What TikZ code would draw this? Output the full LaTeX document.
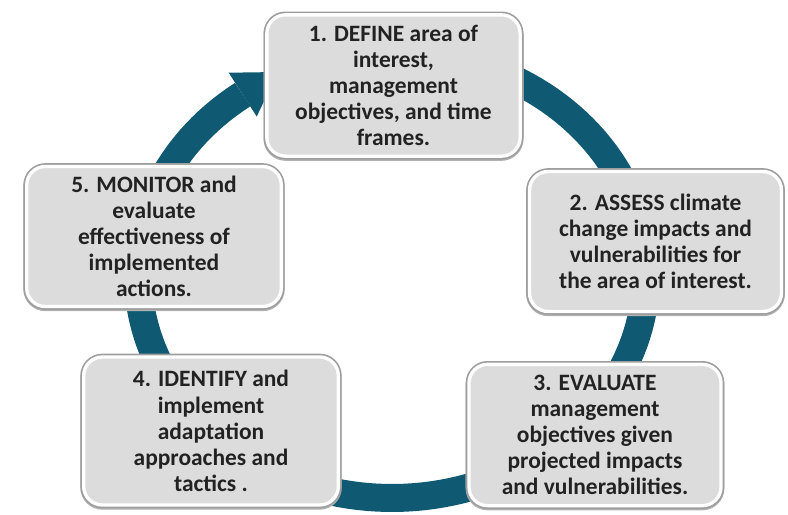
\documentclass[tikz,border=0pt]{standalone}
\usepackage{fontspec}
\setmainfont{Carlito}
\definecolor{ringteal}{HTML}{0F5A72}
\definecolor{boxgray}{HTML}{DCDCDC}
\definecolor{textdark}{HTML}{222222}
\begin{document}
\begin{tikzpicture}[x=0.75pt,y=-0.75pt]
\useasboundingbox (0,0) rectangle (788,514);
\tikzset{
  stage/.style={rounded corners=14pt, fill=boxgray, draw=white, line width=2.5pt,
    preaction={draw=black!30, line width=5pt, transform canvas={yshift=-1pt}},
    preaction={draw=black!38, line width=5pt},
    align=center, text=textdark, inner sep=0pt,
    font=\fontsize{17.6}{19.6}\selectfont\bfseries},
  ring/.style={draw=ringteal, line width=21pt}
}
% ring (clockwise cycle) with arrowhead at top left
\draw[ring] plot[domain=-234:100, samples=160] ({392+254*cos(\x)},{275-223*sin(\x)});
\coordinate (hbase1) at (228.7,72.7);
\coordinate (hbase2) at (256.7,116.5);
\coordinate (htip) at (278.1,72.0);
\fill[ringteal] (hbase1) -- (htip) -- (hbase2) -- cycle;
% stages
\node[stage, minimum width=190pt, minimum height=106pt] (s1) at (393.5,85.5)
  {1. DEFINE area of\\ interest,\\ management\\ objectives, and time\\ frames.};
\node[stage, minimum width=189pt, minimum height=105pt] (s2) at (655.5,241.5)
  {2. ASSESS climate\\ change impacts and\\ vulnerabilities for\\ the area of interest.};
\node[stage, minimum width=189pt, minimum height=106pt] (s3) at (595,435)
  {3. EVALUATE\\ management\\ objectives given\\ projected impacts\\ and vulnerabilities.};
\node[stage, minimum width=191pt, minimum height=111pt] (s4) at (211,431)
  {4. IDENTIFY and\\ implement\\ adaptation\\ approaches and\\ tactics .};
\node[stage, minimum width=191pt, minimum height=105pt] (s5) at (154,236.5)
  {5. MONITOR and\\ evaluate\\ effectiveness of\\ implemented\\ actions.};
\end{tikzpicture}
\end{document}
